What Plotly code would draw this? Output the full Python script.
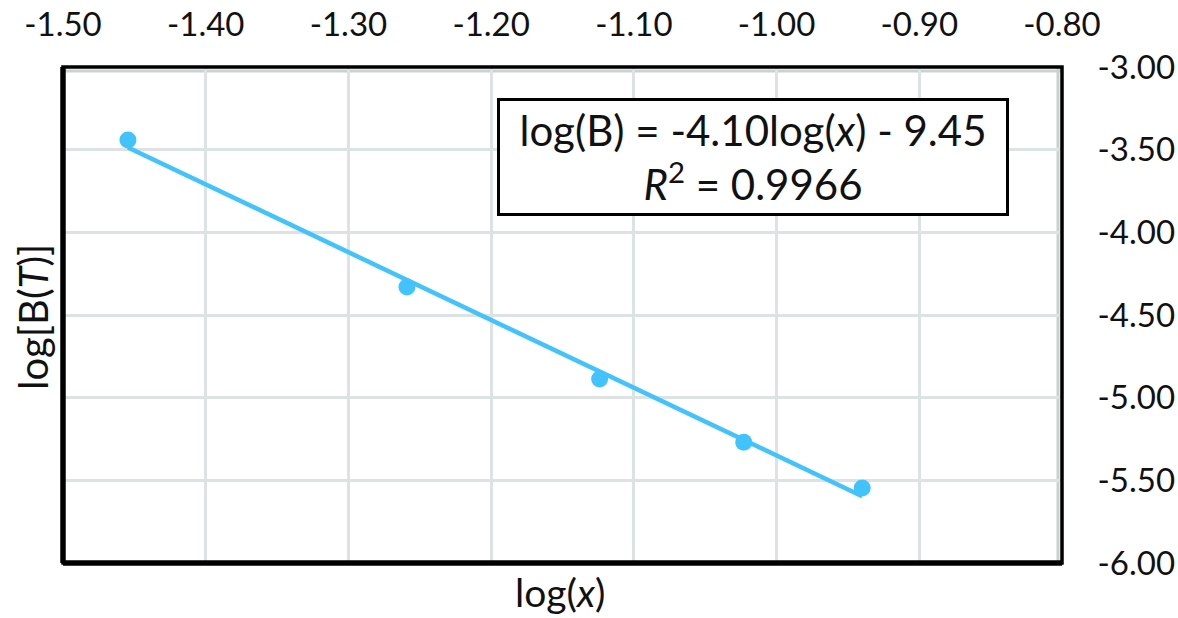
import plotly.graph_objects as go

# Data
log_x = [-1.4545, -1.259, -1.124, -1.023, -0.940]
log_B = [-3.442, -4.331, -4.887, -5.269, -5.547]

# Trend line from the chart's equation
slope = -4.10
intercept = -9.45

x_ticks = [-1.50, -1.40, -1.30, -1.20, -1.10, -1.00, -0.90, -0.80]
y_ticks = [-3.00, -3.50, -4.00, -4.50, -5.00, -5.50, -6.00]

FONT = "Lato, 'Open Sans', sans-serif"
BLUE = "#43C3FB"
GRID = "#DDE3E2"
TXT = "#111111"

trend_x = [min(log_x), max(log_x)]
trend_y = [slope * v + intercept for v in trend_x]

fig = go.Figure()
fig.add_trace(go.Scatter(x=trend_x, y=trend_y, mode="lines",
                         line=dict(color=BLUE, width=4.5), showlegend=False,
                         hoverinfo="skip"))
fig.add_trace(go.Scatter(x=log_x, y=log_B, mode="markers",
                         marker=dict(color=BLUE, size=17, symbol="circle"),
                         showlegend=False))

fig.update_layout(
    width=1178, height=618,
    margin=dict(l=63, r=116, t=67, b=55),
    paper_bgcolor="white", plot_bgcolor="white",
    font=dict(family=FONT, color=TXT, size=30),
    xaxis=dict(
        side="top", range=[-1.50, -0.80], tickvals=x_ticks,
        ticktext=[f"{v:.2f}" for v in x_ticks],
        showgrid=True, gridcolor=GRID, gridwidth=2.5, zeroline=False,
        ticks="outside", ticklen=17, tickcolor="rgba(0,0,0,0)",
        tickfont=dict(size=33, family=FONT, color=TXT),
        showline=False, automargin=False,
    ),
    yaxis=dict(
        side="right", range=[-6.00, -3.00], tickvals=y_ticks,
        ticktext=[f"{v:.2f}" for v in y_ticks],
        showgrid=True, gridcolor=GRID, gridwidth=2.5, zeroline=False,
        ticks="outside", ticklen=28, tickcolor="rgba(0,0,0,0)",
        tickfont=dict(size=33, family=FONT, color=TXT),
        showline=False, automargin=False,
    ),
    shapes=[
        dict(type="line", xref="paper", yref="paper", x0=0, x1=1,
             y0=1 - 4 / 496, y1=1 - 4 / 496,
             line=dict(color="#C9D2D0", width=3), layer="below"),
        dict(type="line", xref="paper", yref="paper", x0=1 - 4 / 999, x1=1 - 4 / 999,
             y0=0, y1=1, line=dict(color="#C9D2D0", width=3), layer="below"),
        dict(type="rect", xref="paper", yref="paper", x0=0, x1=1, y0=0, y1=1,
             line=dict(color="black", width=3.5), layer="above"),
        dict(type="line", xref="paper", yref="paper", x0=0, x1=0, y0=0, y1=1,
             line=dict(color="black", width=5.5), layer="above"),
        dict(type="line", xref="paper", yref="paper", x0=0, x1=1, y0=0, y1=0,
             line=dict(color="black", width=5.5), layer="above"),
    ],
    annotations=[
        dict(xref="paper", yref="paper", x=0.6907, y=0.8185,
             xanchor="center", yanchor="middle",
             text="log(B) = -4.10log(<i>x</i>) - 9.45<br><i>R</i><sup>2</sup> = 0.9966",
             showarrow=False, align="center", width=506, height=112,
             bgcolor="white", bordercolor="black", borderwidth=3, borderpad=0,
             font=dict(size=42, family=FONT, color=TXT)),
        dict(xref="paper", yref="paper", x=0.497, y=-0.058,
             xanchor="center", yanchor="middle",
             text="log(<i>x</i>)", showarrow=False,
             font=dict(size=39, family=FONT, color=TXT)),
        dict(xref="paper", yref="paper", x=-0.030, y=0.496, textangle=-90,
             xanchor="center", yanchor="middle",
             text="log[B(<i>T</i>)]", showarrow=False,
             font=dict(size=40, family=FONT, color=TXT)),
    ],
)

fig.write_html("out.html")
